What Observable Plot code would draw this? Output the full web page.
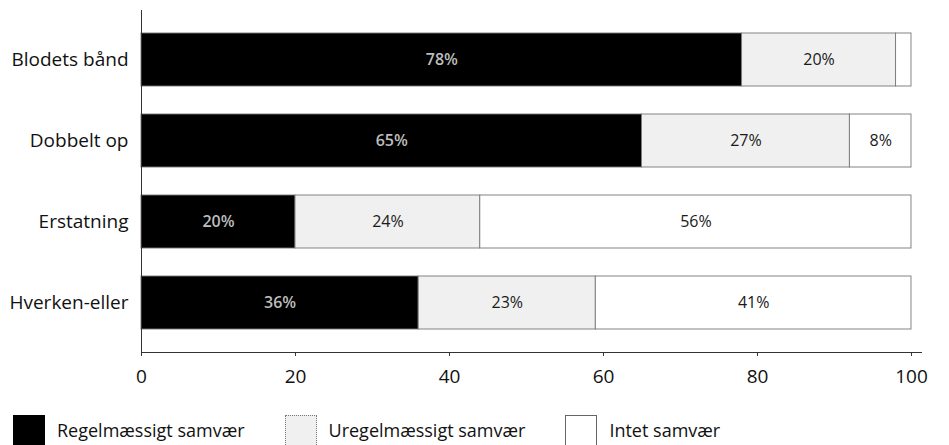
<!DOCTYPE html>
<html>
<head>
<meta charset="utf-8">
<script src="https://cdn.jsdelivr.net/npm/d3@7"></script>
<script src="https://cdn.jsdelivr.net/npm/@observablehq/plot@0.6"></script>
<style>
  html, body { margin: 0; padding: 0; background: #fff; overflow: hidden; }
  body { width: 949px; height: 445px; font-family: "Open Sans", sans-serif; color: #111; }
  #legend { display: flex; align-items: flex-start; padding-left: 13px; padding-top: 10px; height: 35px; }
  .item { display: flex; align-items: flex-start; margin-right: 40px; }
  .sw { width: 32px; height: 36px; box-sizing: border-box; margin-right: 12px; }
  .lab { font-size: 18px; line-height: 18px; margin-top: 6px; white-space: nowrap; }
</style>
</head>
<body>
<div id="chart"></div>
<div id="legend"></div>
<script>
const categories = ["Blodets bånd", "Dobbelt op", "Erstatning", "Hverken-eller"];
const series = ["Regelmæssigt samvær", "Uregelmæssigt samvær", "Intet samvær"];
const regelmaessigt = [78, 65, 20, 36];
const uregelmaessigt = [20, 27, 24, 23];
const intet = [2, 8, 56, 41];
const xTicks = [0, 20, 40, 60, 80, 100];
const colors = ["#000000", "#f0f0f0", "#ffffff"];

const seriesValues = [regelmaessigt, uregelmaessigt, intet];
const data = [];
categories.forEach((cat, i) => {
  series.forEach((s, j) => {
    data.push({cat, series: s, value: seriesValues[j][i]});
  });
});

const stackOpts = {x: "value", y: "cat", z: "series", order: series};

const chart = Plot.plot({
  width: 949,
  height: 405,
  marginLeft: 141,
  marginRight: 28,
  marginTop: 10,
  marginBottom: 53,
  style: {fontFamily: "Open Sans, sans-serif", background: "white", color: "#111"},
  x: {domain: [0, 101.3]},
  y: {domain: categories, paddingInner: 0.35, paddingOuter: 0.27, align: 0.5},
  color: {domain: series, range: colors},
  marks: [
    Plot.barX(data, Plot.stackX({...stackOpts, fill: "series", stroke: "#777", strokeWidth: 0.9})),
    Plot.text(data, Plot.stackX({...stackOpts,
      text: d => d.series === series[0] ? d.value + "%" : null,
      fill: "#bdbdbd", fontSize: 16, fontWeight: 600})),
    Plot.text(data, Plot.stackX({...stackOpts,
      text: d => d.series !== series[0] && d.value >= 5 ? d.value + "%" : null,
      fill: "#1a1a1a", fontSize: 16})),
    Plot.frame({anchor: "left", stroke: "#333"}),
    Plot.frame({anchor: "bottom", stroke: "#333"}),
    Plot.axisX({ticks: xTicks, tickSize: 4, tickPadding: 13, fontSize: 19, label: null, stroke: "#333"}),
    Plot.axisY({tickSize: 0, tickPadding: 13, fontSize: 19, label: null})
  ]
});
document.getElementById("chart").appendChild(chart);

const legend = document.getElementById("legend");
series.forEach((s, j) => {
  const item = document.createElement("div");
  item.className = "item";
  const sw = document.createElement("div");
  sw.className = "sw";
  sw.style.background = colors[j];
  sw.style.border = j === 0 ? "none" : (j === 1 ? "1px dotted #777" : "1px solid #666");
  const lab = document.createElement("div");
  lab.className = "lab";
  lab.textContent = s;
  item.appendChild(sw);
  item.appendChild(lab);
  legend.appendChild(item);
});
</script>
</body>
</html>
